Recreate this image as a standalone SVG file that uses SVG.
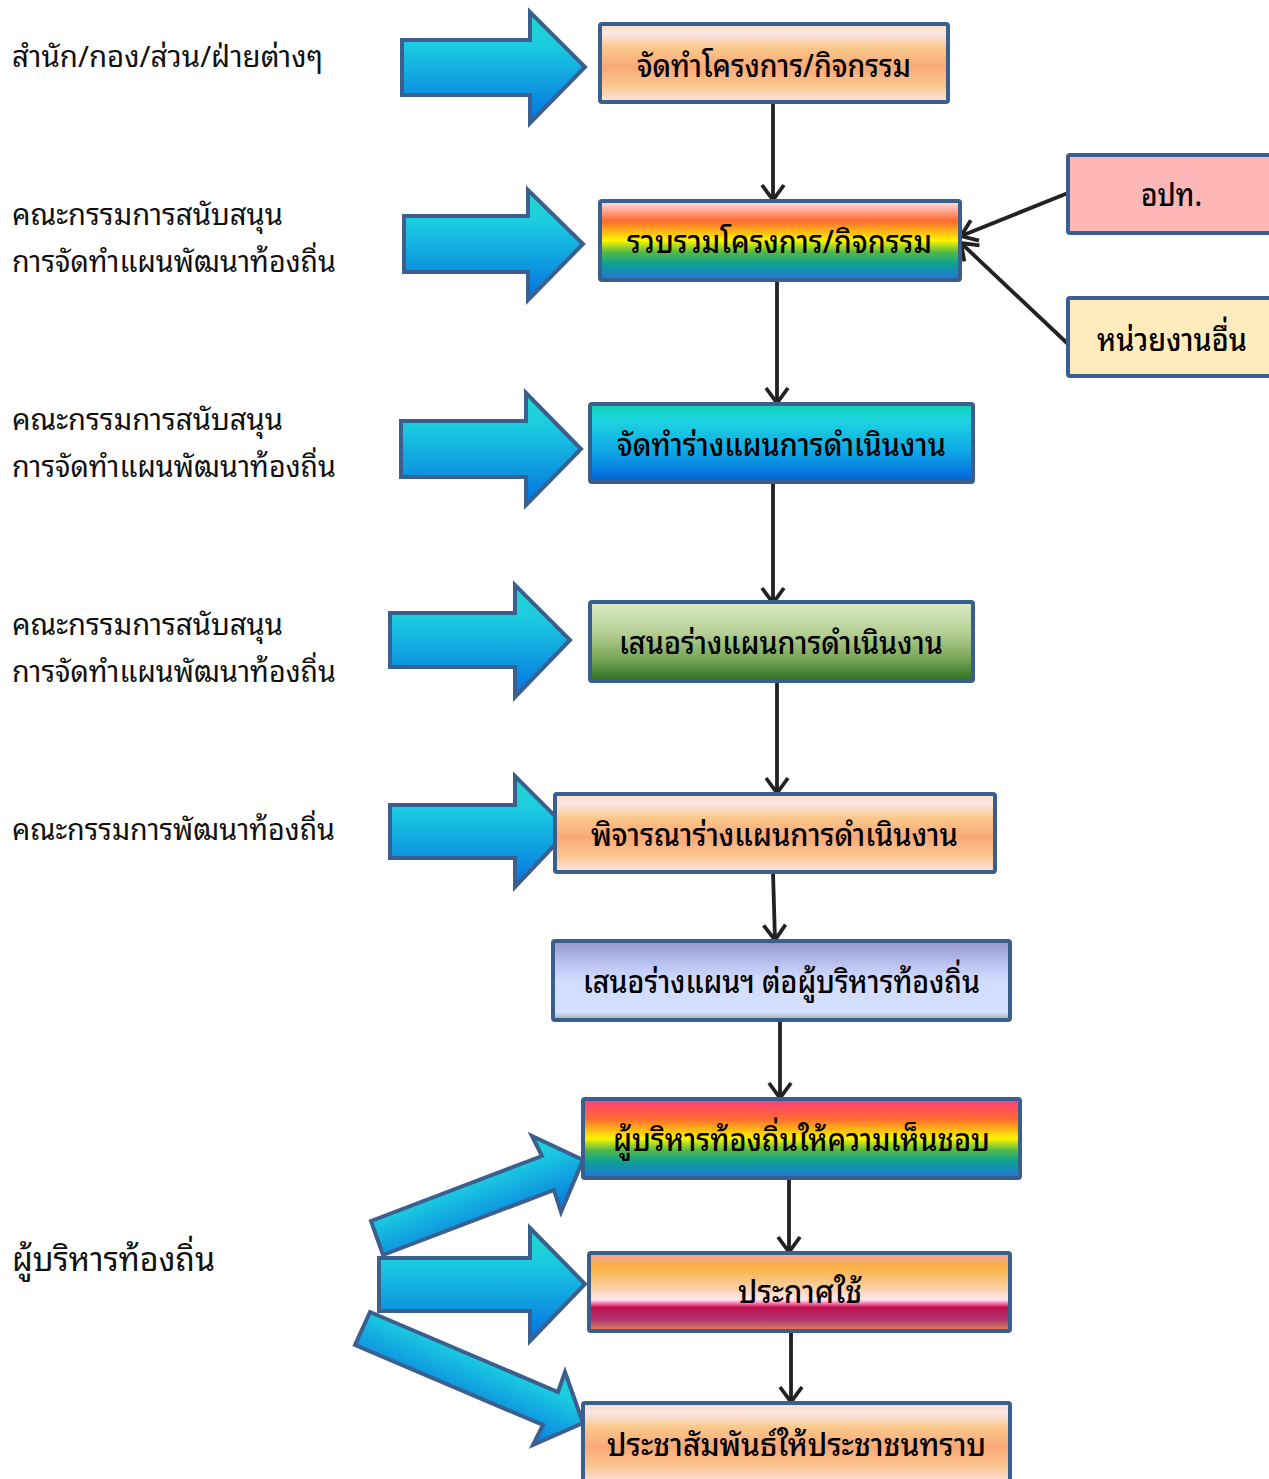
<svg xmlns="http://www.w3.org/2000/svg" width="1269" height="1479" viewBox="0 0 1269 1479">
<style>
.box{stroke:#3A5F8C;stroke-width:4}
.blk{stroke:#3B5F8E;stroke-width:4;stroke-linejoin:miter}
.lbl{font-family:"Noto Sans Thai Looped","Loma","Garuda","Noto Sans Thai","Noto Sans",sans-serif;font-size:29px;fill:#111}
.bt{font-family:"Noto Sans Thai Looped","Loma","Garuda","Noto Sans Thai","Noto Sans",sans-serif;font-size:32px;fill:#000;font-weight:500}
.con{stroke:#222;stroke-width:3.8;fill:none;marker-end:url(#ah)}
</style>
<defs>
<marker id="ah" markerUnits="userSpaceOnUse" markerWidth="26" markerHeight="26" viewBox="0 0 26 26" refX="18" refY="13" orient="auto">
<path d="M3,2 L18,13 L3,24" fill="none" stroke="#222" stroke-width="3.8"/>
</marker>
<linearGradient id="gArrow" x1="0" y1="0" x2="0" y2="1">
<stop offset="0" stop-color="#22D8CC"/><stop offset="0.3" stop-color="#1BCBE0"/><stop offset="1" stop-color="#0470E0"/>
</linearGradient>
<linearGradient id="gArrUp" gradientUnits="userSpaceOnUse" x1="462" y1="1158" x2="494" y2="1240">
<stop offset="0" stop-color="#22D8CC"/><stop offset="0.3" stop-color="#1BCBE0"/><stop offset="1" stop-color="#0470E0"/>
</linearGradient>
<linearGradient id="gArrDn" gradientUnits="userSpaceOnUse" x1="488" y1="1334" x2="452" y2="1416">
<stop offset="0" stop-color="#22D8CC"/><stop offset="0.3" stop-color="#1BCBE0"/><stop offset="1" stop-color="#0470E0"/>
</linearGradient>
<linearGradient id="gPeach" x1="0" y1="0" x2="0" y2="1">
<stop offset="0" stop-color="#FCDDBB"/><stop offset="0.12" stop-color="#FCE6EA"/><stop offset="0.3" stop-color="#FBC98C"/><stop offset="0.55" stop-color="#F8A877"/><stop offset="0.8" stop-color="#FBC893"/><stop offset="1" stop-color="#FCE4E4"/>
</linearGradient>
<linearGradient id="gRain1" x1="0" y1="0" x2="0" y2="1">
<stop offset="0" stop-color="#FFE2EE"/><stop offset="0.25" stop-color="#FF6A30"/><stop offset="0.5" stop-color="#FFF500"/><stop offset="0.65" stop-color="#50B848"/><stop offset="0.8" stop-color="#0CA096"/><stop offset="1" stop-color="#2672E0"/>
</linearGradient>
<linearGradient id="gRain2" x1="0" y1="0" x2="0" y2="1">
<stop offset="0" stop-color="#FF3C82"/><stop offset="0.25" stop-color="#FF6A30"/><stop offset="0.5" stop-color="#FFF500"/><stop offset="0.65" stop-color="#50B848"/><stop offset="0.8" stop-color="#0CA096"/><stop offset="1" stop-color="#2672E0"/>
</linearGradient>
<linearGradient id="gBlue" x1="0" y1="0" x2="0" y2="1">
<stop offset="0" stop-color="#0CD0B0"/><stop offset="0.2" stop-color="#1ED6E0"/><stop offset="0.6" stop-color="#10A8E4"/><stop offset="0.88" stop-color="#0678E0"/><stop offset="1" stop-color="#0660C8"/>
</linearGradient>
<linearGradient id="gGreen" x1="0" y1="0" x2="0" y2="1">
<stop offset="0" stop-color="#DCEAC6"/><stop offset="0.4" stop-color="#B4CE94"/><stop offset="0.72" stop-color="#78A656"/><stop offset="1" stop-color="#2A6E22"/>
</linearGradient>
<linearGradient id="gLav" x1="0" y1="0" x2="0" y2="1">
<stop offset="0" stop-color="#9494CC"/><stop offset="0.3" stop-color="#BCC4F2"/><stop offset="0.5" stop-color="#D2DCFF"/><stop offset="0.9" stop-color="#D4E0FF"/><stop offset="1" stop-color="#9EA8A8"/>
</linearGradient>
<linearGradient id="gAnn" x1="0" y1="0" x2="0" y2="1">
<stop offset="0" stop-color="#F8A0A0"/><stop offset="0.18" stop-color="#F8B040"/><stop offset="0.45" stop-color="#FBD0A4"/><stop offset="0.6" stop-color="#FFE8F0"/><stop offset="0.64" stop-color="#FF80B4"/><stop offset="0.7" stop-color="#C0104E"/><stop offset="0.85" stop-color="#B03272"/><stop offset="1" stop-color="#E08A50"/>
</linearGradient>
</defs>

<g id="labels">
<text class="lbl" x="12" y="67" textLength="311" lengthAdjust="spacingAndGlyphs">สำนัก/กอง/ส่วน/ฝ่ายต่างๆ</text>
<text class="lbl" x="12" y="225" textLength="271" lengthAdjust="spacingAndGlyphs">คณะกรรมการสนับสนุน</text>
<text class="lbl" x="12" y="272" textLength="324" lengthAdjust="spacingAndGlyphs">การจัดทำแผนพัฒนาท้องถิ่น</text>
<text class="lbl" x="12" y="430" textLength="271" lengthAdjust="spacingAndGlyphs">คณะกรรมการสนับสนุน</text>
<text class="lbl" x="12" y="477" textLength="324" lengthAdjust="spacingAndGlyphs">การจัดทำแผนพัฒนาท้องถิ่น</text>
<text class="lbl" x="12" y="635" textLength="271" lengthAdjust="spacingAndGlyphs">คณะกรรมการสนับสนุน</text>
<text class="lbl" x="12" y="682" textLength="324" lengthAdjust="spacingAndGlyphs">การจัดทำแผนพัฒนาท้องถิ่น</text>
<text class="lbl" x="12" y="840" textLength="323" lengthAdjust="spacingAndGlyphs">คณะกรรมการพัฒนาท้องถิ่น</text>
<text class="lbl" x="12" y="1271" style="font-size:34px" textLength="203" lengthAdjust="spacingAndGlyphs">ผู้บริหารท้องถิ่น</text>
</g>

<g id="block-arrows">
<polygon class="blk" fill="url(#gArrow)" points="402,40 530,40 530,12 585,67 530,123 530,95 402,95"/>
<polygon class="blk" fill="url(#gArrow)" points="404,216 528,216 528,190 583,244 528,300 528,272 404,272"/>
<polygon class="blk" fill="url(#gArrow)" points="401,421 526,421 526,393 581,449 526,505 526,477 401,477"/>
<polygon class="blk" fill="url(#gArrow)" points="390,613 515,613 515,585 570,640 515,697 515,667 390,667"/>
<polygon class="blk" fill="url(#gArrow)" points="390,805 515,805 515,776 569,830 515,887 515,858 390,858"/>
<polygon class="blk" fill="url(#gArrUp)" points="371,1221 542,1156 532,1136 583,1160 561,1212 554,1190 383,1255"/>
<polygon class="blk" fill="url(#gArrow)" points="379,1258 530,1258 530,1228 585,1284 530,1341 530,1311 379,1311"/>
<polygon class="blk" fill="url(#gArrDn)" points="370,1312 558,1392 565,1372 583,1423 533,1445 543,1425 355,1345"/>
</g>

<g id="connectors">
<line class="con" x1="773" y1="102" x2="773" y2="200"/>
<line class="con" x1="777" y1="280" x2="777" y2="403"/>
<line class="con" x1="773" y1="482" x2="773" y2="603"/>
<line class="con" x1="777" y1="681" x2="777" y2="793"/>
<line class="con" x1="773" y1="872" x2="775" y2="940"/>
<line class="con" x1="780" y1="1020" x2="780" y2="1098"/>
<line class="con" x1="789" y1="1178" x2="789" y2="1252"/>
<line class="con" x1="791" y1="1331" x2="791" y2="1402"/>
<line class="con" x1="1068" y1="193" x2="961" y2="236"/>
<line class="con" x1="1068" y1="344" x2="961" y2="243"/>
</g>

<g id="n1"><rect class="box" x="600" y="24" width="348" height="78" rx="2" fill="url(#gPeach)"/>
<text class="bt" x="637" y="77" textLength="274" lengthAdjust="spacingAndGlyphs">จัดทำโครงการ/กิจกรรม</text></g>
<g id="n2"><rect class="box" x="600" y="201" width="360" height="79" rx="2" fill="url(#gRain1)"/>
<text class="bt" x="627" y="253" textLength="305" lengthAdjust="spacingAndGlyphs">รวบรวมโครงการ/กิจกรรม</text></g>
<g id="n-opt"><rect class="box" x="1068" y="155" width="210" height="78" rx="2" fill="#FFB6B6"/>
<text class="bt" x="1141" y="206" textLength="61" lengthAdjust="spacingAndGlyphs">อปท.</text></g>
<g id="n-other"><rect class="box" x="1068" y="298" width="210" height="78" rx="2" fill="#FFEBBB"/>
<text class="bt" x="1097" y="351" textLength="150" lengthAdjust="spacingAndGlyphs">หน่วยงานอื่น</text></g>
<g id="n3"><rect class="box" x="590" y="404" width="383" height="78" rx="2" fill="url(#gBlue)"/>
<text class="bt" x="617" y="456" textLength="329" lengthAdjust="spacingAndGlyphs">จัดทำร่างแผนการดำเนินงาน</text></g>
<g id="n4"><rect class="box" x="590" y="602" width="383" height="79" rx="2" fill="url(#gGreen)"/>
<text class="bt" x="619" y="654" textLength="324" lengthAdjust="spacingAndGlyphs">เสนอร่างแผนการดำเนินงาน</text></g>
<g id="n5"><rect class="box" x="555" y="794" width="440" height="78" rx="2" fill="url(#gPeach)"/>
<text class="bt" x="591" y="846" textLength="367" lengthAdjust="spacingAndGlyphs">พิจารณาร่างแผนการดำเนินงาน</text></g>
<g id="n6"><rect class="box" x="553" y="941" width="457" height="79" rx="2" fill="url(#gLav)"/>
<text class="bt" x="583" y="993" textLength="397" lengthAdjust="spacingAndGlyphs">เสนอร่างแผนฯ ต่อผู้บริหารท้องถิ่น</text></g>
<g id="n7"><rect class="box" x="583" y="1099" width="437" height="79" rx="2" fill="url(#gRain2)"/>
<text class="bt" x="613" y="1151" textLength="377" lengthAdjust="spacingAndGlyphs">ผู้บริหารท้องถิ่นให้ความเห็นชอบ</text></g>
<g id="n8"><rect class="box" x="589" y="1253" width="421" height="78" rx="2" fill="url(#gAnn)"/>
<text class="bt" x="738" y="1303" textLength="124" lengthAdjust="spacingAndGlyphs">ประกาศใช้</text></g>
<g id="n9"><rect class="box" x="583" y="1403" width="427" height="80" rx="2" fill="url(#gPeach)"/>
<text class="bt" x="607" y="1456" textLength="379" lengthAdjust="spacingAndGlyphs">ประชาสัมพันธ์ให้ประชาชนทราบ</text></g>
</svg>
